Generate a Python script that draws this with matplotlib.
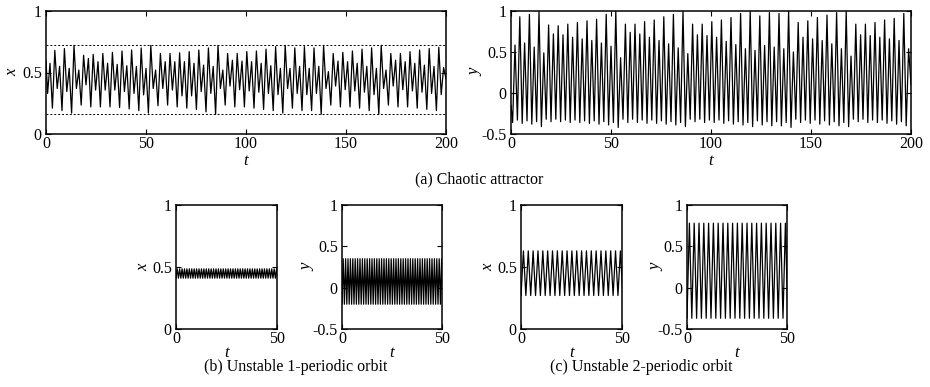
import numpy as np
import matplotlib
matplotlib.use('Agg')
import matplotlib.pyplot as plt

plt.rcParams['font.family'] = ['Liberation Serif', 'DejaVu Serif']
plt.rcParams['axes.unicode_minus'] = False

"""### Data read off the reference"""

# chaotic attractor: one cycle = big peak + medium peak, extrema every 1.2 time units
cycle_period = 4.8
first_big_peak = 4.4
step = 1.2

# x(t), per cycle k = 0..40
x_deep = [0.21, 0.19, 0.17, 0.235, 0.22, 0.22, 0.22, 0.215, 0.204, 0.19,
          0.17, 0.23, 0.235, 0.22, 0.21, 0.20, 0.18, 0.16, 0.235, 0.22,
          0.22, 0.21, 0.20, 0.19, 0.17, 0.21, 0.19, 0.19, 0.16, 0.235,
          0.22, 0.22, 0.21, 0.19, 0.16, 0.235, 0.22, 0.22, 0.21, 0.20,
          0.19]
x_big = [0.68, 0.695, 0.72, 0.64, 0.647, 0.655, 0.664, 0.675, 0.683, 0.70,
         0.72, 0.655, 0.655, 0.66, 0.67, 0.683, 0.70, 0.72, 0.655, 0.655,
         0.67, 0.675, 0.69, 0.71, 0.72, 0.70, 0.71, 0.70, 0.72, 0.655,
         0.664, 0.675, 0.69, 0.70, 0.72, 0.655, 0.655, 0.67, 0.683, 0.695,
         0.705]
x_mid = [0.37, 0.345, 0.37, 0.40, 0.357, 0.357, 0.357, 0.345, 0.33, 0.318,
         0.37, 0.37, 0.357, 0.31, 0.31, 0.345, 0.33, 0.37, 0.39, 0.36,
         0.35, 0.34, 0.33, 0.32, 0.37, 0.33, 0.32, 0.33, 0.37, 0.39,
         0.36, 0.35, 0.34, 0.32, 0.37, 0.39, 0.36, 0.35, 0.34, 0.33,
         0.32]
x_med = [0.55, 0.534, 0.52, 0.615, 0.588, 0.575, 0.566, 0.555, 0.55, 0.534,
         0.52, 0.588, 0.588, 0.588, 0.575, 0.56, 0.55, 0.52, 0.60, 0.593,
         0.588, 0.575, 0.555, 0.534, 0.534, 0.55, 0.534, 0.55, 0.507, 0.593,
         0.588, 0.575, 0.55, 0.534, 0.52, 0.60, 0.588, 0.575, 0.56, 0.55,
         0.54]
x_start = [0.60, 0.33, 0.575]
x_end = 0.45
x_bounds = [0.165, 0.72]

# y(t), per cycle k = 0..40
y_lo_a = [-0.33, -0.34, -0.35, -0.32, -0.32, -0.33, -0.33, -0.34, -0.34, -0.35,
          -0.36, -0.32, -0.32, -0.33, -0.33, -0.34, -0.35, -0.36, -0.32, -0.32,
          -0.33, -0.33, -0.34, -0.35, -0.36, -0.34, -0.35, -0.35, -0.36, -0.32,
          -0.33, -0.33, -0.34, -0.35, -0.36, -0.32, -0.32, -0.33, -0.33, -0.34,
          -0.35]
y_big = [0.93, 0.96, 1.0, 0.83, 0.82, 0.84, 0.86, 0.88, 0.90, 0.96,
         1.0, 0.84, 0.84, 0.87, 0.89, 0.93, 0.96, 1.0, 0.84, 0.84,
         0.87, 0.89, 0.92, 0.97, 1.0, 0.94, 0.98, 0.97, 1.0, 0.86,
         0.88, 0.92, 0.95, 0.98, 1.0, 0.84, 0.84, 0.86, 0.89, 0.91,
         0.97]
y_lo_b = [-0.37, -0.38, -0.41, -0.35, -0.35, -0.36, -0.36, -0.37, -0.38, -0.39,
          -0.42, -0.36, -0.36, -0.37, -0.37, -0.38, -0.39, -0.41, -0.35, -0.36,
          -0.36, -0.37, -0.38, -0.39, -0.41, -0.39, -0.40, -0.40, -0.42, -0.36,
          -0.37, -0.38, -0.39, -0.40, -0.41, -0.35, -0.36, -0.36, -0.37, -0.38,
          -0.40]
y_small = [0.61, 0.56, 0.49, 0.72, 0.71, 0.68, 0.66, 0.64, 0.61, 0.57,
           0.43, 0.74, 0.72, 0.68, 0.64, 0.60, 0.55, 0.48, 0.71, 0.70,
           0.68, 0.63, 0.59, 0.54, 0.52, 0.58, 0.56, 0.54, 0.50, 0.68,
           0.66, 0.64, 0.60, 0.54, 0.45, 0.71, 0.70, 0.68, 0.66, 0.64,
           0.54]
y_start = [-0.15, -0.36, 0.585]
y_end = 0.1

# unstable periodic orbits: [trough, peak], peak-to-peak spacing
b_x_levels = [0.41, 0.485]
b_y_levels = [-0.2, 0.35]
b_spacing = 1.2
c_x_levels = [0.27, 0.63]
c_y_levels = [-0.37, 0.78]
c_spacing = 2.4

"""### Build the traces"""

t_peaks = first_big_peak + cycle_period * np.arange(len(x_big))
t_start = [0.0, first_big_peak - 3 * step, first_big_peak - 2 * step]

t_chaos = np.concatenate([t_start,
                          np.column_stack([t_peaks - step, t_peaks, t_peaks + step, t_peaks + 2 * step]).ravel(),
                          [200.0]])
x_chaos = np.concatenate([x_start, np.column_stack([x_deep, x_big, x_mid, x_med]).ravel(), [x_end]])
y_chaos = np.concatenate([y_start, np.column_stack([y_lo_a, y_big, y_lo_b, y_small]).ravel(), [y_end]])


def orbit(levels, spacing, t_max=50):
    n = int(t_max / (spacing / 2)) + 2
    t = np.arange(n) * spacing / 2
    v = np.tile(levels, n // 2 + 1)[:n]
    return t, v


"""### Plot"""

fig = plt.figure(figsize=(9.3, 3.87), dpi=100)

W, H = 930, 387


def make_axes(left, right, top, bottom):
    return fig.add_axes([left / W, 1 - bottom / H, (right - left) / W, (bottom - top) / H])


def style(ax, xlim, ylim, xticks, yticks, yticklabels, ylab, ylab_x, xlab_y):
    ax.set_xlim(xlim)
    ax.set_ylim(ylim)
    ax.set_xticks(xticks)
    ax.set_xticklabels([str(v) for v in xticks])
    ax.set_yticks(yticks)
    ax.set_yticklabels(yticklabels)
    ax.tick_params(direction='in', top=True, right=True, length=3.5, width=0.8,
                   labelsize=11.5, colors='black')
    ax.tick_params(axis='x', pad=1.5)
    ax.tick_params(axis='y', pad=3)
    for s in ax.spines.values():
        s.set_linewidth(1.1)
    ax.set_ylabel(ylab, fontsize=12, va='center', fontstyle='italic')
    ax.yaxis.set_label_coords(ylab_x, 0.5)
    ax.set_xlabel('t', fontsize=12, va='center', fontstyle='italic')
    ax.xaxis.set_label_coords(0.5, xlab_y)


ax1 = make_axes(46, 446, 11, 134)
ax1.plot(t_chaos, x_chaos, color='black', lw=0.9)
for b in x_bounds:
    ax1.axhline(b, color='black', lw=0.7, ls=(0, (2, 2)))
style(ax1, (0, 200), (0, 1), [0, 50, 100, 150, 200], [0, 0.5, 1], ['0', '0.5', '1'], 'x', -0.085, -0.22)

ax2 = make_axes(511, 911, 11, 134)
ax2.plot(t_chaos, y_chaos, color='black', lw=0.9)
style(ax2, (0, 200), (-0.5, 1), [0, 50, 100, 150, 200], [-0.5, 0, 0.5, 1], ['-0.5', '0', '0.5', '1'], 'y', -0.09, -0.22)

fig.text(479 / W, 1 - 179 / H, '(a) Chaotic attractor', ha='center', va='center', fontsize=11.5)

panels = [
    (176, 277, b_x_levels, b_spacing, (0, 1), [0, 0.5, 1], ['0', '0.5', '1'], 'x', -0.32),
    (342, 442, b_y_levels, b_spacing, (-0.5, 1), [-0.5, 0, 0.5, 1], ['-0.5', '0', '0.5', '1'], 'y', -0.35),
    (521, 622, c_x_levels, c_spacing, (0, 1), [0, 0.5, 1], ['0', '0.5', '1'], 'x', -0.32),
    (687, 787, c_y_levels, c_spacing, (-0.5, 1), [-0.5, 0, 0.5, 1], ['-0.5', '0', '0.5', '1'], 'y', -0.31),
]
for left, right, levels, spacing, ylim, yt, ytl, lab, labx in panels:
    ax = make_axes(left, right, 205, 329)
    t, v = orbit(levels, spacing)
    ax.plot(t, v, color='black', lw=0.9)
    style(ax, (0, 50), ylim, [0, 50], yt, ytl, lab, labx, -0.19)

fig.text(296 / W, 1 - 367 / H, '(b) Unstable 1-periodic orbit', ha='center', va='center', fontsize=11.5)
fig.text(641 / W, 1 - 367 / H, '(c) Unstable 2-periodic orbit', ha='center', va='center', fontsize=11.5)

fig.savefig('out.png', dpi=100)
